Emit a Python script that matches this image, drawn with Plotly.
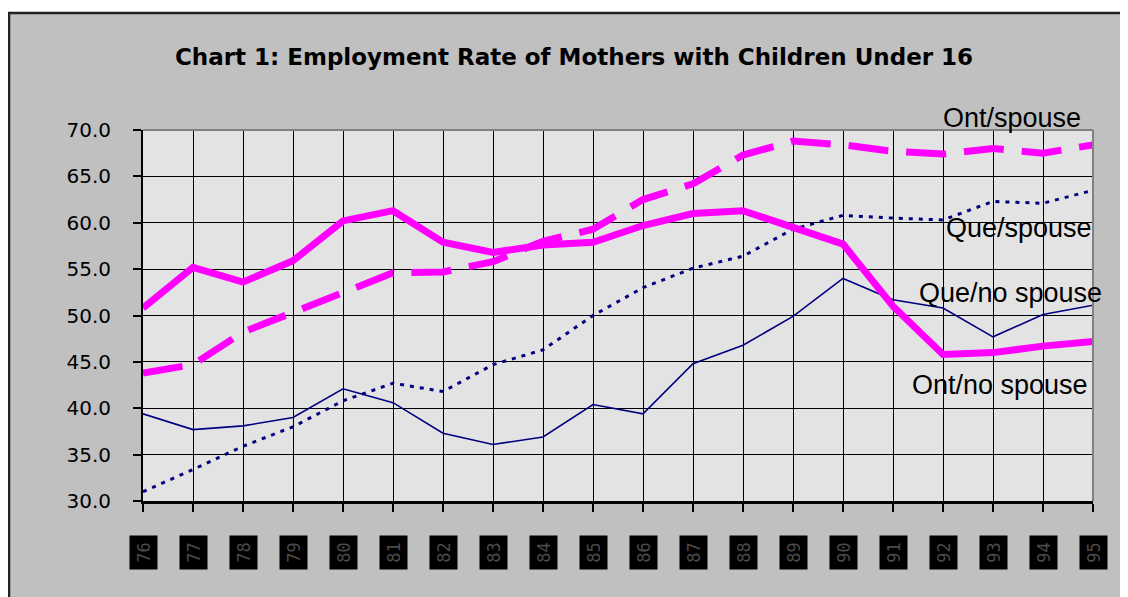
import plotly.graph_objects as go

years = ["76", "77", "78", "79", "80", "81", "82", "83", "84", "85",
         "86", "87", "88", "89", "90", "91", "92", "93", "94", "95"]

ont_no_spouse = [50.8, 55.2, 53.6, 55.9, 60.2, 61.3, 57.9, 56.8, 57.6, 57.9,
                 59.7, 61.0, 61.3, 59.5, 57.7, 51.0, 45.8, 46.0, 46.7, 47.2]
ont_spouse = [43.8, 44.7, 48.2, 50.4, 52.6, 54.6, 54.7, 55.8, 58.0, 59.3,
              62.5, 64.2, 67.3, 68.8, 68.4, 67.7, 67.4, 68.0, 67.5, 68.4]
que_spouse = [31.0, 33.4, 35.9, 38.0, 40.8, 42.7, 41.8, 44.7, 46.3, 50.0,
              53.0, 55.1, 56.4, 59.3, 60.8, 60.5, 60.3, 62.3, 62.1, 63.5]
que_no_spouse = [39.4, 37.7, 38.1, 39.0, 42.1, 40.6, 37.3, 36.1, 36.9, 40.4,
                 39.4, 44.8, 46.8, 49.9, 54.0, 51.7, 50.8, 47.7, 50.1, 51.1]

title_text = "Chart 1: Employment Rate of Mothers with Children Under 16"
series_labels = ["Ont/spouse", "Que/spouse", "Que/no spouse", "Ont/no spouse"]

MAGENTA = "#ff00ff"
NAVY = "#000080"

fig = go.Figure()
fig.add_trace(go.Scatter(x=years, y=que_no_spouse, mode="lines", name="Que/no spouse",
                         line=dict(color=NAVY, width=1.6)))
fig.add_trace(go.Scatter(x=years, y=que_spouse, mode="lines", name="Que/spouse",
                         line=dict(color=NAVY, width=3, dash="4px,6px")))
fig.add_trace(go.Scatter(x=years, y=ont_spouse, mode="lines", name="Ont/spouse",
                         line=dict(color=MAGENTA, width=7, dash="40px,18px")))
fig.add_trace(go.Scatter(x=years, y=ont_no_spouse, mode="lines", name="Ont/no spouse",
                         line=dict(color=MAGENTA, width=7)))

# figure pixel geometry (page is offset by the 8px body margin)
W, H = 1128, 597
L, R, T, B = 135, 43, 122, 104
pw = W - L - R
ph = H - T - B

def px(x):
    return (x - L) / pw

def py(y):
    return (H - B - y) / ph

shapes = [
    # white strip above the chart frame
    dict(type="rect", xref="paper", yref="paper", x0=px(-5), x1=px(W + 5), y0=py(4), y1=py(-5),
         fillcolor="white", line=dict(width=0), layer="below"),
    # frame border lines
    dict(type="line", xref="paper", yref="paper", x0=px(0), x1=px(W + 5), y0=py(5), y1=py(5),
         line=dict(color="#222222", width=2.5)),
    dict(type="line", xref="paper", yref="paper", x0=px(1), x1=px(1), y0=py(4), y1=py(H + 5),
         line=dict(color="#222222", width=2.5)),
    # plot area top and right border (gray)
    dict(type="line", xref="paper", yref="paper", x0=0, x1=1, y0=1, y1=1,
         line=dict(color="#808080", width=2)),
    dict(type="line", xref="paper", yref="paper", x0=1, x1=1, y0=0, y1=1,
         line=dict(color="#808080", width=2)),
]

annotations = []
label_pos = {
    "Ont/spouse": (1004, 110),
    "Que/spouse": (1011, 220),
    "Que/no spouse": (1002, 285),
    "Ont/no spouse": (992, 377),
}
for lab in series_labels:
    cx, cy = label_pos[lab]
    annotations.append(dict(text=lab, xref="paper", yref="paper", x=px(cx), y=py(cy),
                            xanchor="center", yanchor="middle", showarrow=False,
                            font=dict(family="Liberation Sans, Arial", size=27, color="black")))

for i, yr in enumerate(years):
    annotations.append(dict(text=yr, xref="x", yref="paper", x=i, y=py(545),
                            xanchor="center", yanchor="middle", showarrow=False,
                            textangle=-90, bgcolor="black", width=31, height=25,
                            font=dict(family="DejaVu Sans Mono, monospace", size=17, color="#4a4a4a")))

fig.update_layout(
    width=W, height=H,
    margin=dict(l=L, r=R, t=T, b=B, pad=0),
    paper_bgcolor="#c0c0c0",
    plot_bgcolor="#e3e3e3",
    showlegend=False,
    title=dict(text="<b>" + title_text + "</b>", xref="container", x=566 / W, xanchor="center",
               y=1 - 49 / H, yanchor="middle",
               font=dict(family="DejaVu Sans, Arial", size=23, color="black")),
    xaxis=dict(type="category", range=[0, 19], showgrid=True, gridcolor="black", gridwidth=1.3,
               showline=True, linecolor="black", linewidth=2.5, ticks="outside", ticklen=8,
               tickcolor="black", tickwidth=2, showticklabels=False, zeroline=False,
               fixedrange=True),
    yaxis=dict(range=[30, 70], tickmode="linear", tick0=30, dtick=5, tickformat=".1f",
               showgrid=True, gridcolor="black", gridwidth=1.3, showline=True, linecolor="black",
               linewidth=2, ticks="outside", ticklen=8, tickcolor="black", tickwidth=2,
               ticklabelstandoff=18, zeroline=False,
               tickfont=dict(family="DejaVu Sans, Arial", size=20, color="black")),
    shapes=shapes,
    annotations=annotations,
)

fig.write_html("out.html")
